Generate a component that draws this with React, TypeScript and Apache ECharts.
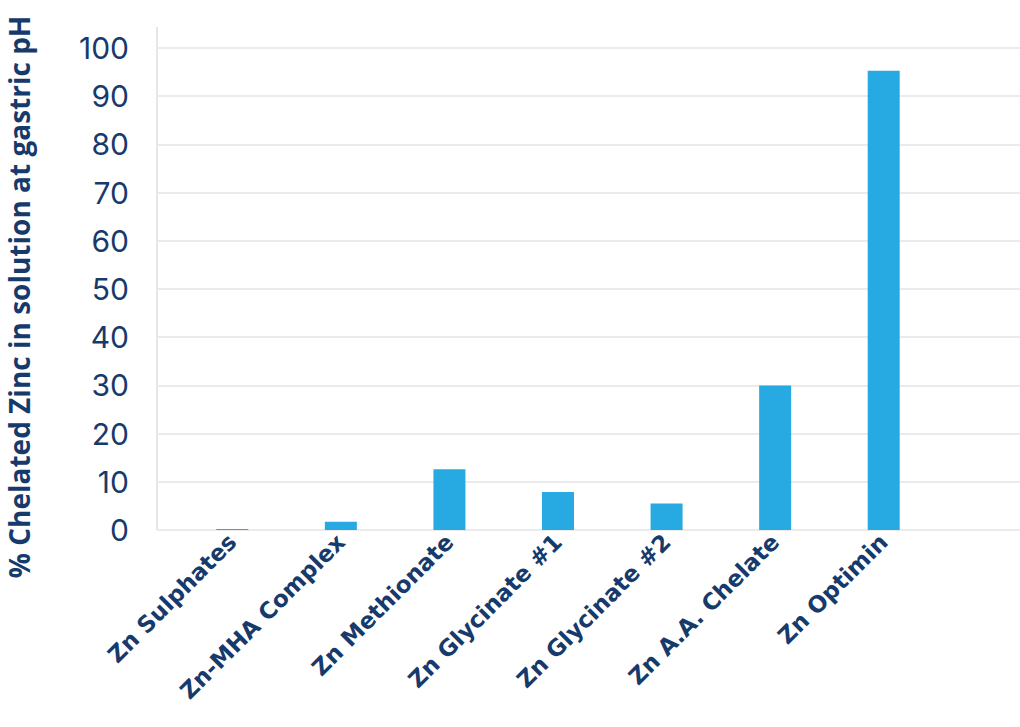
import React, { useEffect, useRef } from "react";
import * as echarts from "echarts";

const categories = [
  "Zn Sulphates",
  "Zn-MHA Complex",
  "Zn Methionate",
  "Zn Glycinate #1",
  "Zn Glycinate #2",
  "Zn A.A. Chelate",
  "Zn Optimin",
];
const chelatedValues = [0.2, 1.7, 12.6, 7.9, 5.5, 30, 95.3];
const yTitle = "% Chelated Zinc in solution at gastric pH";
const yMin = 0;
const yMax = 100;
const yInterval = 10;

const NAVY = "#163a6b";
const BLUE = "#27aae1";

export default function App() {
  const ref = useRef<HTMLDivElement>(null);
  useEffect(() => {
    if (!ref.current) return;
    const chart = echarts.init(ref.current, undefined, { renderer: "svg" });
    chart.setOption({
      animation: false,
      backgroundColor: "#ffffff",
      grid: [
        { left: 157, right: 0, top: 48, height: 482, outerBoundsMode: "none", containLabel: false },
        { left: 178, width: 760, top: 48, height: 482, outerBoundsMode: "none", containLabel: false },
      ],
      graphic: [
        {
          type: "line",
          shape: { x1: 157, y1: 27, x2: 157, y2: 530 },
          style: { stroke: "#e6e6e6", lineWidth: 2 },
          z: 0,
        },
        {
          type: "text",
          x: 19,
          y: 297,
          rotation: Math.PI / 2,
          style: {
            text: yTitle,
            fill: NAVY,
            font: "bold 28px 'Open Sans', sans-serif",
            align: "center",
            verticalAlign: "middle",
          },
        },
      ],
      xAxis: [
        { type: "value", gridIndex: 0, show: false, min: 0, max: 1 },
        {
          type: "category",
          gridIndex: 1,
          data: categories,
          axisLine: { show: false },
          axisTick: { show: false },
          axisLabel: {
            rotate: 45,
            interval: 0,
            margin: 8,
            color: NAVY,
            fontFamily: "'DejaVu Sans', sans-serif",
            fontWeight: "bold",
            fontSize: 23,
          },
        },
      ],
      yAxis: [
        {
          type: "value",
          gridIndex: 0,
          min: yMin,
          max: yMax,
          interval: yInterval,
          axisLine: { show: false },
          axisTick: { show: false },
          axisLabel: {
            color: NAVY,
            fontFamily: "Inter, sans-serif",
            fontSize: 30,
            margin: 28,
          },
          splitLine: { lineStyle: { color: "#ebebeb", width: 2 } },
        },
        {
          type: "value",
          gridIndex: 1,
          min: yMin,
          max: yMax,
          interval: yInterval,
          show: false,
          splitLine: { show: false },
        },
      ],
      series: [
        {
          type: "bar",
          xAxisIndex: 1,
          yAxisIndex: 1,
          data: chelatedValues,
          barWidth: 32,
          itemStyle: { color: BLUE },
        },
      ],
    });
    return () => chart.dispose();
  }, []);
  return (
    <div
      ref={ref}
      style={{ position: "fixed", left: 0, top: 0, width: 1020, height: 727 }}
    />
  );
}
